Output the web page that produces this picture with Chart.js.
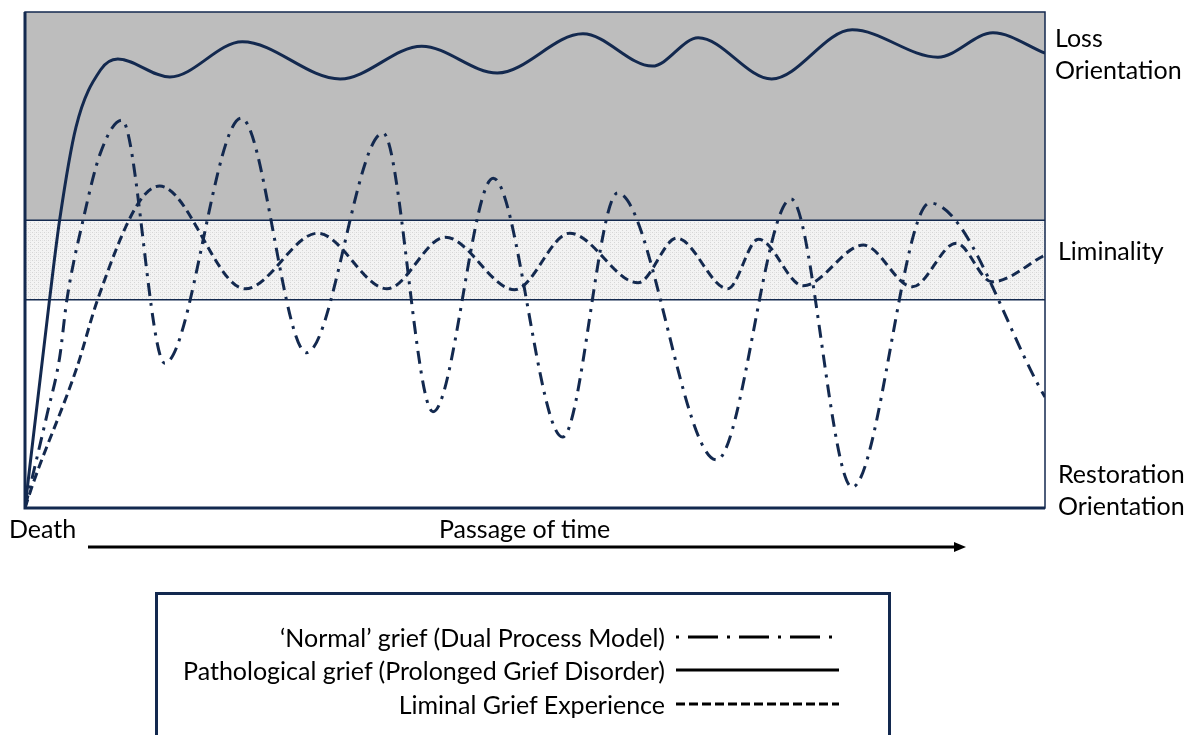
<!DOCTYPE html>
<html>
<head>
<meta charset="utf-8">
<script src="https://cdn.jsdelivr.net/npm/chart.js@4/dist/chart.umd.min.js"></script>
<style>
  body { margin: 0; background: #fff; }
  #wrap { position: relative; width: 1184px; height: 735px; overflow: hidden; font-family: Lato, "Open Sans", sans-serif; color: #000; }
  #chart { position: absolute; left: 0; top: 0; }
  .lbl { position: absolute; white-space: nowrap; line-height: 1; font-size: 25px; transform: translateY(-50%); }
  .leg { position: absolute; white-space: nowrap; line-height: 1; font-size: 25px; transform: translateY(-50%); right: 519px; }
  #legendBox { position: absolute; left: 155px; top: 592px; width: 730px; height: 200px; border: 3px solid #13294f; }
  svg { position: absolute; left: 0; top: 0; }
</style>
</head>
<body>
<div id="wrap">
  <canvas id="chart" width="1184" height="735"></canvas>
  <div class="lbl" style="left:1055px; top:37px">Loss</div>
  <div class="lbl" style="left:1055px; top:69px">Orientation</div>
  <div class="lbl" style="left:1058px; top:250px">Liminality</div>
  <div class="lbl" style="left:1058px; top:473px">Restoration</div>
  <div class="lbl" style="left:1058px; top:505px">Orientation</div>
  <div class="lbl" style="left:9px; top:528px">Death</div>
  <div class="lbl" style="left:439px; top:528px">Passage of time</div>
  <div id="legendBox"></div>
  <div class="leg" style="top:637px">‘Normal’ grief (Dual Process Model)</div>
  <div class="leg" style="top:670px">Pathological grief (Prolonged Grief Disorder)</div>
  <div class="leg" style="top:704px">Liminal Grief Experience</div>
  <svg width="1184" height="735">
    <line x1="88" y1="547" x2="956" y2="547" stroke="#000" stroke-width="3"/>
    <polygon points="966,547 954,542 954,552" fill="#000"/>
    <line x1="676" y1="637" x2="839" y2="637" stroke="#000" stroke-width="3" stroke-dasharray="3 9 30 9"/>
    <line x1="676" y1="670" x2="839" y2="670" stroke="#000" stroke-width="3"/>
    <line x1="676" y1="704" x2="839" y2="704" stroke="#000" stroke-width="3" stroke-dasharray="9 4"/>
  </svg>
</div>
<script>
// time axis runs 0..100 from death to the right edge, level 0..100 from restoration to loss
const normalT = [0, 2.2, 3.4, 4.1, 5.7, 7.4, 9.5, 13.7, 21.2, 27.6, 35.1, 40.0, 45.9, 52.7, 58.1, 67.8, 75.1, 81.1, 88.7, 100];
const normalV = [0, 19.2, 30.4, 41.9, 58.1, 71.6, 78.2, 29.2, 78.6, 31.3, 75.6, 19.4, 66.5, 14.3, 63.5, 9.7, 62.3, 4.2, 61.5, 22.4];

const pathT = [0, 2.4, 3.4, 5.0, 7.4, 9.1, 14.2, 21.3, 30.9, 38.9, 46.3, 54.7, 61.5, 66.0, 73.2, 81.1, 89.5, 94.9, 100];
const pathV = [0, 41.9, 58.1, 76.8, 88.3, 90.5, 86.9, 94.0, 86.5, 93.1, 87.7, 95.6, 89.1, 94.8, 86.5, 96.4, 90.9, 95.8, 91.7];

const liminalT = [0, 0.8, 5.1, 7.1, 11.0, 13.2, 21.6, 28.7, 35.5, 41.2, 48.0, 53.4, 60.1, 63.9, 68.9, 71.9, 76.3, 82.2, 87.0, 91.3, 94.8, 100];
const liminalV = [0, 5.0, 28.4, 41.9, 61.1, 64.9, 44.2, 55.4, 44.2, 54.6, 44.0, 55.4, 45.4, 54.4, 44.2, 54.2, 44.8, 53.0, 44.6, 53.4, 45.6, 51.0];

// zone limits on the level axis
const lossFloor = 58;
const liminalFloor = 42;

const navy = '#13294f';

function toPoints(ts, vs) {
  return ts.map((t, i) => ({ x: t, y: vs[i] }));
}

function stipple() {
  const c = document.createElement('canvas');
  c.width = 4; c.height = 4;
  const g = c.getContext('2d');
  g.fillStyle = '#f3f3f3';
  g.fillRect(0, 0, 4, 4);
  g.fillStyle = '#d6d6d6';
  g.fillRect(0, 0, 1, 1);
  g.fillRect(2, 2, 1, 1);
  g.fillStyle = '#e4e4e4';
  g.fillRect(2, 0, 1, 1);
  return c;
}

const zones = {
  id: 'zones',
  beforeDatasetsDraw(chart) {
    const { ctx, chartArea: a, scales: { y } } = chart;
    const yLoss = y.getPixelForValue(lossFloor);
    const yLim = y.getPixelForValue(liminalFloor);
    ctx.save();
    ctx.fillStyle = '#bdbdbd';
    ctx.fillRect(a.left, a.top, a.width, yLoss - a.top);
    ctx.fillStyle = ctx.createPattern(stipple(), 'repeat');
    ctx.fillRect(a.left, yLoss, a.width, yLim - yLoss);
    ctx.strokeStyle = navy;
    ctx.lineWidth = 1.5;
    ctx.strokeRect(a.left, a.top, a.width, a.height);
    ctx.beginPath();
    ctx.moveTo(a.left, yLoss); ctx.lineTo(a.right, yLoss);
    ctx.moveTo(a.left, yLim); ctx.lineTo(a.right, yLim);
    ctx.stroke();
    ctx.lineWidth = 3;
    ctx.beginPath();
    ctx.moveTo(a.left, a.top); ctx.lineTo(a.left, a.bottom); ctx.lineTo(a.right, a.bottom);
    ctx.stroke();
    ctx.restore();
  }
};

new Chart(document.getElementById('chart'), {
  type: 'line',
  data: {
    datasets: [
      { label: "'Normal' grief (Dual Process Model)", data: toPoints(normalT, normalV), borderDash: [13, 7, 3, 7] },
      { label: 'Pathological grief (Prolonged Grief Disorder)', data: toPoints(pathT, pathV) },
      { label: 'Liminal Grief Experience', data: toPoints(liminalT, liminalV), borderDash: [9, 5] }
    ]
  },
  options: {
    responsive: false,
    animation: false,
    devicePixelRatio: 1,
    layout: { padding: { left: 25, right: 139, top: 12, bottom: 227 } },
    elements: {
      point: { radius: 0 },
      line: { borderColor: navy, borderWidth: 3, cubicInterpolationMode: 'monotone', fill: false }
    },
    scales: {
      x: { type: 'linear', min: 0, max: 100, display: false },
      y: { min: 0, max: 100, display: false }
    },
    plugins: { legend: { display: false }, tooltip: { enabled: false } }
  },
  plugins: [zones]
});
</script>
</body>
</html>
